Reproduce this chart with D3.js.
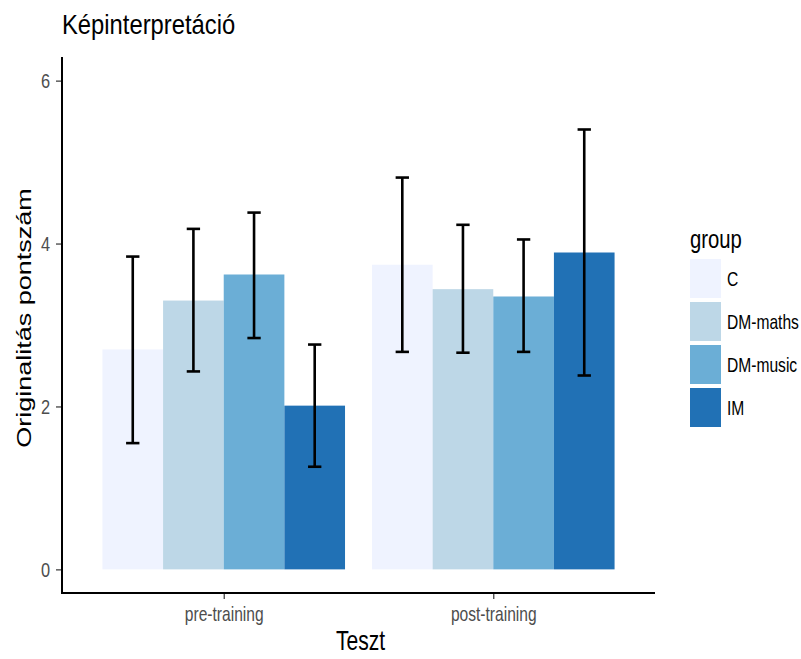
<!DOCTYPE html>
<html><head><meta charset="utf-8">
<script src="https://cdn.jsdelivr.net/npm/d3@7"></script>
<style>body{margin:0;background:#fff}svg{display:block}text{font-family:"Liberation Sans",Arial,sans-serif}</style>
</head><body>
<svg id="c" width="801" height="659"></svg>
<script>
const tests = ["pre-training", "post-training"];
const groups = ["C", "DM-maths", "DM-music", "IM"];
const colors = ["#eff3ff", "#bdd7e7", "#6baed6", "#2171b5"];
const means = {
  "pre-training":  [2.70, 3.30, 3.62, 2.01],
  "post-training": [3.74, 3.44, 3.35, 3.89]
};
const lower = {
  "pre-training":  [1.55, 2.43, 2.84, 1.26],
  "post-training": [2.67, 2.66, 2.67, 2.38]
};
const upper = {
  "pre-training":  [3.84, 4.18, 4.38, 2.76],
  "post-training": [4.81, 4.23, 4.05, 5.40]
};
const yTicks = [0, 2, 4, 6];

const SX = 0.78; // horizontal text compression seen in the reference
const svg = d3.select("#c");
const L = 62, R = 655, T = 57, B = 593;

const y = d3.scaleLinear().domain([-0.29, 6.29]).range([B, T]);
const unit = (R - L) / 2.2;
const xCenter = i => L + (0.6 + i) * unit;
const bx = d3.scaleBand().domain(groups).range([-0.45 * unit, 0.45 * unit]).padding(0);
const color = d3.scaleOrdinal().domain(groups).range(colors);

const rows = [];
tests.forEach((t, i) => groups.forEach((g, j) => rows.push({t, i, g, m: means[t][j], lo: lower[t][j], hi: upper[t][j]})));

svg.append("g").selectAll("rect").data(rows).join("rect")
  .attr("x", d => xCenter(d.i) + bx(d.g))
  .attr("width", bx.bandwidth())
  .attr("y", d => y(d.m))
  .attr("height", d => y(0) - y(d.m))
  .attr("fill", d => color(d.g));

const eb = svg.append("g").attr("stroke", "#000").attr("stroke-width", 2.6).attr("fill", "none");
const capW = bx.bandwidth() * 0.22;
rows.forEach(d => {
  const cx = xCenter(d.i) + bx(d.g) + bx.bandwidth() / 2;
  eb.append("line").attr("x1", cx).attr("x2", cx).attr("y1", y(d.lo)).attr("y2", y(d.hi));
  eb.append("line").attr("x1", cx - capW / 2).attr("x2", cx + capW / 2).attr("y1", y(d.lo)).attr("y2", y(d.lo));
  eb.append("line").attr("x1", cx - capW / 2).attr("x2", cx + capW / 2).attr("y1", y(d.hi)).attr("y2", y(d.hi));
});

const yAxis = d3.axisLeft(y).tickValues(yTicks).tickSize(6).tickPadding(5).tickFormat(d3.format("d"));
const gy = svg.append("g").attr("transform", `translate(${L},0)`).call(yAxis);
gy.select(".domain").remove();
gy.selectAll(".tick line").attr("stroke", "#333").attr("stroke-width", 1.2);
gy.selectAll(".tick text").attr("fill", "#4d4d4d").style("font-size", "21px")
  .attr("x", -12 / SX).attr("transform", `scale(${SX},1)`);

const xs = d3.scalePoint().domain(tests).range([xCenter(0), xCenter(1)]);
const xAxis = d3.axisBottom(xs).tickSize(6).tickPadding(8);
const gx = svg.append("g").attr("transform", `translate(0,${B})`).call(xAxis);
gx.select(".domain").remove();
gx.selectAll(".tick line").attr("stroke", "#333").attr("stroke-width", 1.2);
gx.selectAll(".tick text").attr("fill", "#4d4d4d").style("font-size", "20px").attr("transform", `scale(${SX},1)`);

svg.append("line").attr("x1", L).attr("x2", L).attr("y1", T).attr("y2", B + 1).attr("stroke", "#000").attr("stroke-width", 2);
svg.append("line").attr("x1", L - 1).attr("x2", R).attr("y1", B).attr("y2", B).attr("stroke", "#000").attr("stroke-width", 2);

svg.append("text").attr("transform", `translate(${L},34) scale(0.85,1)`).style("font-size", "28px").text("Képinterpretáció");
svg.append("text").attr("transform", `translate(${(L + R) / 2 + 2},650) scale(${SX},1)`).attr("text-anchor", "middle").style("font-size", "27px").text("Teszt");
svg.append("text").attr("transform", `translate(31,318) scale(${SX},1) rotate(-90)`).attr("text-anchor", "middle").style("font-size", "27px").text("Originalitás pontszám");

const lg = svg.append("g").attr("transform", "translate(690,0)");
lg.append("text").attr("transform", `translate(0,248) scale(${SX},1)`).style("font-size", "26px").text("group");
const keyH = 39, keyStep = 43;
groups.forEach((g, j) => {
  const ky = 259 + j * keyStep;
  lg.append("rect").attr("x", 0).attr("y", ky).attr("width", 31).attr("height", keyH).attr("fill", color(g));
  lg.append("text").attr("transform", `translate(37,${ky + keyH / 2 + 7}) scale(${SX},1)`).style("font-size", "20px").text(g);
});
</script>
</body></html>
